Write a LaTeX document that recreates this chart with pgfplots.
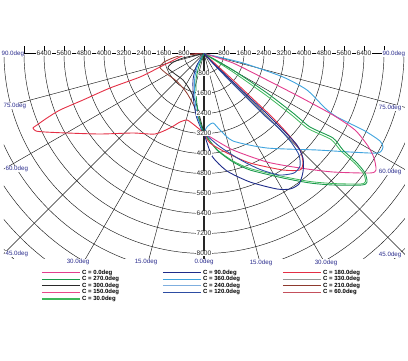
\documentclass[border=0pt]{standalone}
\usepackage{pgfplots}
\pgfplotsset{compat=1.18}
\usepackage{fontspec}
\setmainfont{Liberation Sans}
\definecolor{cPink}{HTML}{E23D8E}
\definecolor{cGreen}{HTML}{1A9A4C}
\definecolor{cBlack}{HTML}{2A2A2A}
\definecolor{cPinkB}{HTML}{E8478A}
\definecolor{cGreenL}{HTML}{3DB85A}
\definecolor{cNavy}{HTML}{1F2C8A}
\definecolor{cSky}{HTML}{3EA3DE}
\definecolor{cSteel}{HTML}{7FAFDF}
\definecolor{cBlue}{HTML}{2D4DA3}
\definecolor{cRed}{HTML}{E42F45}
\definecolor{cGray}{HTML}{959595}
\definecolor{cBrown}{HTML}{8E3A2E}
\definecolor{cRose}{HTML}{C4505C}
\definecolor{degblue}{HTML}{2B2D8E}
\begin{document}
\begin{tikzpicture}
\useasboundingbox (-204pt,-306.5pt) rectangle (204pt,53.5pt);
\begin{axis}[at={(-200pt,-205pt)},anchor=south west,scale only axis,
  width=401pt,height=212.5pt,
  xmin=-8000,xmax=8040,ymin=-8200,ymax=300,
  axis line style={draw=none},xtick=\empty,ytick=\empty,clip=true]
% grid circles
\pgfplotsinvokeforeach{1,...,15}{
  \addplot[black!90,line width=0.45pt,domain=-180:0,samples=120] ({#1*800*cos(x)},{#1*800*sin(x)});
}
% radial lines
\pgfplotsinvokeforeach{-165,-150,-135,-120,-105,-75,-60,-45,-30,-15}{
  \draw[black!90,line width=0.45pt] (axis cs:0,0) -- ++(#1:450pt);
}
\draw[black,line width=0.6pt] (axis cs:-8000,0) -- (axis cs:8040,0);
\draw[black!85,line width=1.1pt] (axis cs:0,0) -- (axis cs:0,-8200);
% ---- curves ----
% left lobe (C = 180)
\addplot[cRed,line width=0.9pt,smooth,tension=0.4] coordinates {
(0,0) (-760,-60) (-1360,-340) (-1760,-540) (-2560,-940) (-3760,-1380) (-4840,-1860) (-5760,-2260) (-6280,-2580) (-6680,-2860) (-6840,-2980) (-6720,-3100) (-6360,-3140) (-5480,-3180) (-4160,-3220) (-2840,-3180) (-1960,-3220) (-1360,-2980) (-960,-2740) (-680,-2660) (-440,-2820) (-240,-2980) (0,-3180)};
% left dark curves
\addplot[cBrown,line width=0.8pt,smooth,tension=0.4] coordinates {
(0,0) (-1000,-100) (-1600,-340) (-1760,-560) (-1480,-820) (-1080,-1120) (-700,-1560) (-400,-2100) (-180,-2700) (0,-3180)};
\addplot[cBlack,line width=0.8pt,smooth,tension=0.4] coordinates {
(0,0) (-840,-180) (-1280,-380) (-1440,-580) (-1160,-820) (-840,-1060) (-560,-1460) (-320,-1980) (-160,-2580) (0,-3180)};
% left near-vertical parts
\addplot[cNavy,line width=0.8pt,smooth,tension=0.4] coordinates {
(0,0) (-300,-500) (-440,-1060) (-420,-1860) (-300,-2540) (-100,-3040) (0,-3180)};
\addplot[cSky,line width=0.8pt,smooth,tension=0.4] coordinates {
(0,0) (-260,-500) (-380,-1060) (-360,-1860) (-260,-2540) (-80,-3040) (0,-3180)};
\addplot[cGreen,line width=0.8pt,smooth,tension=0.4] coordinates {
(0,0) (-200,-500) (-320,-1060) (-300,-1860) (-200,-2540) (-60,-3040) (0,-3180)};
% right: sky
\addplot[cSky,line width=0.9pt,smooth,tension=0.4] coordinates {
(0,-3180) (120,-2940) (360,-2780) (640,-3060) (1160,-3500) (2520,-3780) (4520,-3860) (5840,-3940) (6960,-3980) (7160,-3740) (7040,-3500) (6440,-3100) (5320,-2540) (4840,-2180) (4120,-1460) (3160,-940) (1560,-380) (240,-60) (0,0)};
% right: pink
\addplot[cPink,line width=0.9pt,smooth,tension=0.4] coordinates {
(0,0) (1160,-380) (2520,-1060) (3840,-1740) (5160,-2460) (6040,-3060) (6560,-3700) (6800,-4180) (6880,-4660) (6640,-4780) (5160,-4740) (3840,-4580) (2520,-4340) (1160,-3860) (320,-3380) (0,-3180)};
% right: green (two)
\addplot[cGreenL,line width=0.8pt,smooth,tension=0.4] coordinates {
(0,0) (1100,-700) (2440,-1640) (3480,-2440) (4160,-3000) (5080,-3440) (5480,-3900) (6040,-4400) (6380,-4800) (6460,-5120) (6260,-5220) (5160,-5200) (4240,-5120) (3160,-4920) (1840,-4600) (1160,-4300) (520,-3840) (0,-3180)};
\addplot[cGreen,line width=0.9pt,smooth,tension=0.4] coordinates {
(0,0) (1160,-660) (2520,-1580) (3560,-2380) (4240,-2940) (5160,-3380) (5560,-3860) (6120,-4380) (6440,-4780) (6520,-5140) (6320,-5260) (5160,-5260) (4240,-5180) (3160,-4980) (1840,-4660) (1160,-4340) (520,-3860) (0,-3180)};
% right: red
\addplot[cRed,line width=0.9pt,smooth,tension=0.4] coordinates {
(0,0) (480,-440) (1200,-1100) (1960,-1820) (2640,-2460) (3320,-3180) (3840,-3860) (3960,-4380) (3840,-4660) (3160,-4660) (1840,-4380) (920,-3980) (240,-3580) (0,-3180)};
% right: blue (two)
\addplot[cBlue,line width=0.9pt,smooth,tension=0.4] coordinates {
(0,0) (400,-440) (1040,-1100) (1720,-1780) (2400,-2460) (3000,-3000) (3480,-3540) (3800,-4060) (3840,-4500) (3600,-4780) (3000,-4860) (2200,-4620) (1400,-4220) (600,-3700) (0,-3180)};
\addplot[cNavy,line width=0.9pt,smooth,tension=0.4] coordinates {
(0,0) (440,-460) (1160,-1140) (1840,-1780) (2520,-2420) (3240,-3140) (3720,-3660) (3960,-4180) (3960,-4740) (3800,-5220) (3440,-5420) (2920,-5420) (1840,-5140) (920,-4700) (320,-4100) (0,-3180)};
\end{axis}
% ---- ticks and labels ----
\begin{scope}[x=1pt,y=1pt]
\foreach \k in {1,...,9}{
  \draw[black,line width=0.5pt] (-20*\k,0) -- ++(0,8);
  \draw[black,line width=0.5pt] (20*\k,0) -- ++(0,8);
}
\begin{scope}[font=\fontsize{6.6}{7}\selectfont, every node/.style={fill=white,inner sep=0.5pt,text=black!85}]
\foreach \k/\t in {1/800,2/1600,3/2400,4/3200,5/4000,6/4800,7/5600,8/6400,9/7200,10/8000}{
  \node at (0,-20*\k) {\t};
}
\foreach \k/\t in {1/800,2/1600,3/2400,4/3200,5/4000,6/4800,7/5600,8/6400}{
  \node at (-20*\k,0) {\t};
  \node at (20*\k,0) {\t};
}
\end{scope}
\begin{scope}[font=\fontsize{6.2}{7}\selectfont, every node/.style={fill=white,inner sep=0.4pt,text=degblue}]
\node[anchor=west] at (-203,0) {90.0deg};
\node[anchor=west] at (178,0) {90.0deg};
\node[anchor=west] at (-201,-52.5) {75.0deg};
\node[anchor=west] at (-199,-115.5) {60.0deg};
\node[anchor=west] at (-199,-200.5) {45.0deg};
\node at (-126,-208.5) {30.0deg};
\node at (-58,-208.5) {15.0deg};
\node at (0,-208.5) {0.0deg};
\node at (57,-209.5) {15.0deg};
\node at (122,-209.5) {30.0deg};
\node[anchor=east] at (198,-201.5) {45.0deg};
\node[anchor=east] at (198,-118.5) {60.0deg};
\node[anchor=east] at (198,-54.5) {75.0deg};
\end{scope}
% ---- legend ----
\begin{scope}[font=\fontsize{6}{6}\selectfont\bfseries]
\foreach \r/\c/\t in {0/cPink/{C = 0.0deg},1/cGreen/{C = 270.0deg},2/cBlack/{C = 300.0deg},3/cPinkB/{C = 150.0deg},4/cGreenL/{C = 30.0deg}}{
  \draw[\c,line width=1.3pt] (-162,-219.1-6.6*\r) -- (-124,-219.1-6.6*\r);
  \node[anchor=west,inner sep=1pt] at (-123,-219.1-6.6*\r) {\t};
}
\foreach \r/\c/\t in {0/cNavy/{C = 90.0deg},1/cSky/{C = 360.0deg},2/cSteel/{C = 240.0deg},3/cBlue/{C = 120.0deg}}{
  \draw[\c,line width=1.3pt] (-41,-219.1-6.6*\r) -- (-3,-219.1-6.6*\r);
  \node[anchor=west,inner sep=1pt] at (-2,-219.1-6.6*\r) {\t};
}
\foreach \r/\c/\t in {0/cRed/{C = 180.0deg},1/cGray/{C = 330.0deg},2/cBrown/{C = 210.0deg},3/cRose/{C = 60.0deg}}{
  \draw[\c,line width=1.3pt] (79,-219.1-6.6*\r) -- (117,-219.1-6.6*\r);
  \node[anchor=west,inner sep=1pt] at (118,-219.1-6.6*\r) {\t};
}
\end{scope}
\end{scope}
\end{tikzpicture}
\end{document}
